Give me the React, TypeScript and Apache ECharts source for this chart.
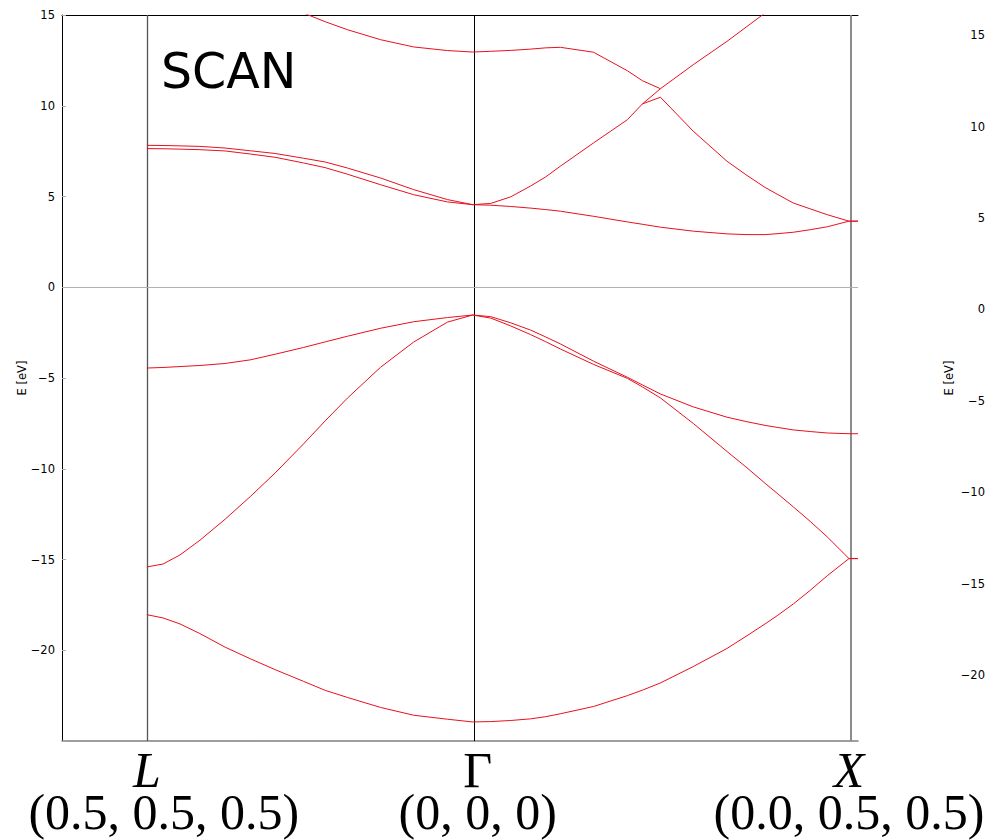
import React, { useEffect, useRef } from 'react';
import * as echarts from 'echarts';

// k-path distance (L = 0, Γ = 0.866, X = 1.866), last point is the flat extension past X
const kPath = [0, 0.043, 0.088, 0.141, 0.208, 0.275, 0.341, 0.416, 0.474, 0.533, 0.621, 0.709, 0.799, 0.866,
  0.914, 0.967, 1.020, 1.060, 1.099, 1.187, 1.277, 1.317, 1.365, 1.452, 1.542, 1.595, 1.643, 1.675, 1.718, 1.763, 1.808, 1.866, 1.890];

// Energies in eV
const bandV1 = [-18.04, -18.22, -18.55, -19.08, -19.83, -20.47, -21.07, -21.71, -22.21, -22.6, -23.15, -23.58, -23.8, -23.95,
  -23.93, -23.87, -23.78, -23.66, -23.5, -23.1, -22.5, -22.2, -21.8, -20.9, -19.9, -19.2, -18.55, -18.1, -17.45, -16.7, -15.9, -14.95, -14.95];
const bandV2 = [-15.41, -15.25, -14.75, -13.94, -12.78, -11.53, -10.23, -8.64, -7.36, -6.11, -4.41, -3.02, -1.92, -1.53,
  -1.70, -2.13, -2.61, -3.0, -3.40, -4.25, -5.02, -5.49, -6.10, -7.5, -9.05, -9.95, -10.8, -11.35, -12.1, -12.9, -13.75, -14.95, -14.95];
const bandV3 = [-4.45, -4.42, -4.37, -4.31, -4.20, -4.0, -3.69, -3.32, -3.01, -2.70, -2.26, -1.90, -1.67, -1.53,
  -1.62, -1.96, -2.36, -2.74, -3.12, -4.07, -4.96, -5.38, -5.88, -6.59, -7.16, -7.41, -7.61, -7.72, -7.86, -7.95, -8.03, -8.07, -8.07];
const bandC1 = [7.64, 7.63, 7.61, 7.58, 7.51, 7.34, 7.16, 6.85, 6.59, 6.23, 5.65, 5.10, 4.70, 4.55,
  4.52, 4.45, 4.36, 4.28, 4.19, 3.91, 3.60, 3.47, 3.31, 3.09, 2.94, 2.90, 2.90, 2.95, 3.03, 3.17, 3.33, 3.64, 3.64];
const bandC2 = [7.82, 7.81, 7.79, 7.76, 7.67, 7.52, 7.37, 7.11, 6.90, 6.57, 6.02, 5.38, 4.83, 4.55,
  4.62, 4.98, 5.58, 6.08, 6.67, 7.95, 9.23, 10.10, 10.47, 8.60, 6.94, 6.16, 5.50, 5.13, 4.64, 4.32, 4.0, 3.64, 3.64];
const bandC3 = [17.8, 17.7, 17.5, 17.1, 16.7, 16.2, 15.65, 15.11, 14.63, 14.19, 13.64, 13.24, 13.04, 12.96,
  13.0, 13.05, 13.12, 13.19, 13.22, 12.95, 11.93, 11.38, 10.94, 12.26, 13.55, 14.37, 15.11, 15.6, 16.2, 16.8, 17.3, 17.9, 17.9];
const bandC4 = [null, null, null, null, null, null, null, null, null, null, null, null, null, null,
  null, null, null, null, null, null, null, 10.10, 10.94, null, null, null, null, null, null, null, null, null, null];

const bands = [bandV1, bandV2, bandV3, bandC1, bandC2, bandC3, bandC4];

const kPos = [0, 0.866, 1.866];
const kLabels = ['L', 'Γ', 'X'];
const kCoords = ['(0.5, 0.5, 0.5)', '(0, 0, 0)', '(0.0, 0.5, 0.5)'];

const X_MIN = -0.2255;
const X_MAX = 1.89;

export default function App() {
  const ref = useRef<HTMLDivElement>(null);
  useEffect(() => {
    const chart = echarts.init(ref.current!, null, { renderer: 'svg' });
    const red = '#e8101e';
    const fmtE = (v: number) => {
      if (Math.abs(v / 5 - Math.round(v / 5)) > 1e-6) return '';
      if (v <= -25) return '';
      return v < 0 ? '\u2212' + Math.abs(v) : String(v);
    };
    const tickFont = { fontFamily: 'DejaVu Sans', fontSize: 11.5, color: '#000' };

    const series: any[] = bands.map((b, i) => ({
      type: 'line',
      name: 'band' + i,
      xAxisIndex: 0,
      yAxisIndex: 0,
      data: kPath.map((k, j) => [k, b[j]]).filter((p) => p[1] !== null),
      showSymbol: false,
      symbol: 'none',
      silent: true,
      clip: true,
      z: 3,
      lineStyle: { color: red, width: 1 },
      itemStyle: { color: red },
    }));
    series[0].markLine = {
      silent: true,
      symbol: 'none',
      label: { show: false },
      z: 2,
      data: [
        { xAxis: kPos[0], lineStyle: { color: '#555', width: 1.3, type: 'solid' } },
        { xAxis: kPos[1], lineStyle: { color: '#000', width: 1, type: 'solid' } },
        { xAxis: kPos[2], lineStyle: { color: '#808080', width: 1.8, type: 'solid' } },
        { yAxis: 0, lineStyle: { color: '#b0b0b0', width: 1, type: 'solid' } },
      ],
    };
    series.push({ type: 'line', xAxisIndex: 2, yAxisIndex: 1, data: [], silent: true });

    const serif = 'Liberation Serif';
    const option: any = {
      animation: false,
      backgroundColor: '#fff',
      grid: [
        { left: 62, top: 15, width: 796, height: 726, containLabel: false, outerBoundsMode: 'none' },
        { left: 993, top: 15, width: 400, height: 726, containLabel: false, outerBoundsMode: 'none' },
      ],
      xAxis: [
        {
          type: 'value', gridIndex: 0, min: X_MIN, max: X_MAX, position: 'bottom',
          axisLine: { show: true, onZero: false, lineStyle: { color: '#7f7f7f', width: 1.5 } },
          axisTick: { show: false },
          splitLine: { show: false },
          axisLabel: {
            customValues: kPos,
            margin: 8,
            formatter: (v: number) => {
              const i = kPos.findIndex((p) => Math.abs(p - v) < 1e-6);
              if (i < 0) return '';
              return `{${i === 1 ? 'u' : 'i'}|${kLabels[i]}}\n{c${i}|${kCoords[i]}}`;
            },
            rich: {
              i: { fontFamily: serif, fontStyle: 'italic', fontSize: 50, lineHeight: 42, color: '#000' },
              u: { fontFamily: serif, fontSize: 50, lineHeight: 42, color: '#000', padding: [0, 0, 0, 10] },
              c0: { fontFamily: serif, fontSize: 50, lineHeight: 42, color: '#000', padding: [0, 0, 0, 34] },
              c1: { fontFamily: serif, fontSize: 50, lineHeight: 42, color: '#000', padding: [0, 0, 0, 10] },
              c2: { fontFamily: serif, fontSize: 50, lineHeight: 42, color: '#000' },
            },
          },
        },
        {
          type: 'value', gridIndex: 0, min: X_MIN, max: X_MAX, position: 'top',
          axisLine: { show: true, onZero: false, lineStyle: { color: '#000', width: 1 } },
          axisTick: { show: false }, axisLabel: { show: false }, splitLine: { show: false },
        },
        { type: 'value', gridIndex: 1, min: 0, max: 1, show: false },
      ],
      yAxis: [
        {
          type: 'value', gridIndex: 0, min: -25, max: 15, interval: 5,
          name: 'E [eV]', nameLocation: 'middle', nameGap: 34, nameMoveOverlap: false,
          nameTextStyle: { fontFamily: 'DejaVu Sans', fontSize: 11.5, color: '#000' },
          axisLine: { show: true, onZero: false, lineStyle: { color: '#000', width: 1 } },
          axisTick: { show: true, inside: true, length: 4, lineStyle: { color: '#aaa' } },
          splitLine: { show: false },
          axisLabel: { ...tickFont, margin: 7, formatter: fmtE },
        },
        {
          type: 'value', gridIndex: 1, min: -23.6, max: 16.1, splitNumber: 8,
          name: 'E [eV]', nameLocation: 'middle', nameGap: 38,
          nameTextStyle: { fontFamily: 'DejaVu Sans', fontSize: 11.5, color: '#000' },
          axisLine: { show: false }, axisTick: { show: false }, splitLine: { show: false },
          axisLabel: { ...tickFont, margin: 8, formatter: fmtE },
        },
      ],
      graphic: [
        {
          type: 'text', x: 161, y: 71, z: 10,
          style: { text: 'SCAN', fontFamily: 'DejaVu Sans', fontSize: 49, fill: '#000', align: 'left', verticalAlign: 'middle' },
        },
      ],
      series,
    };
    chart.setOption(option);
    return () => chart.dispose();
  }, []);
  return <div ref={ref} style={{ position: 'fixed', left: 0, top: 0, width: 986, height: 840, background: '#fff' }} />;
}
